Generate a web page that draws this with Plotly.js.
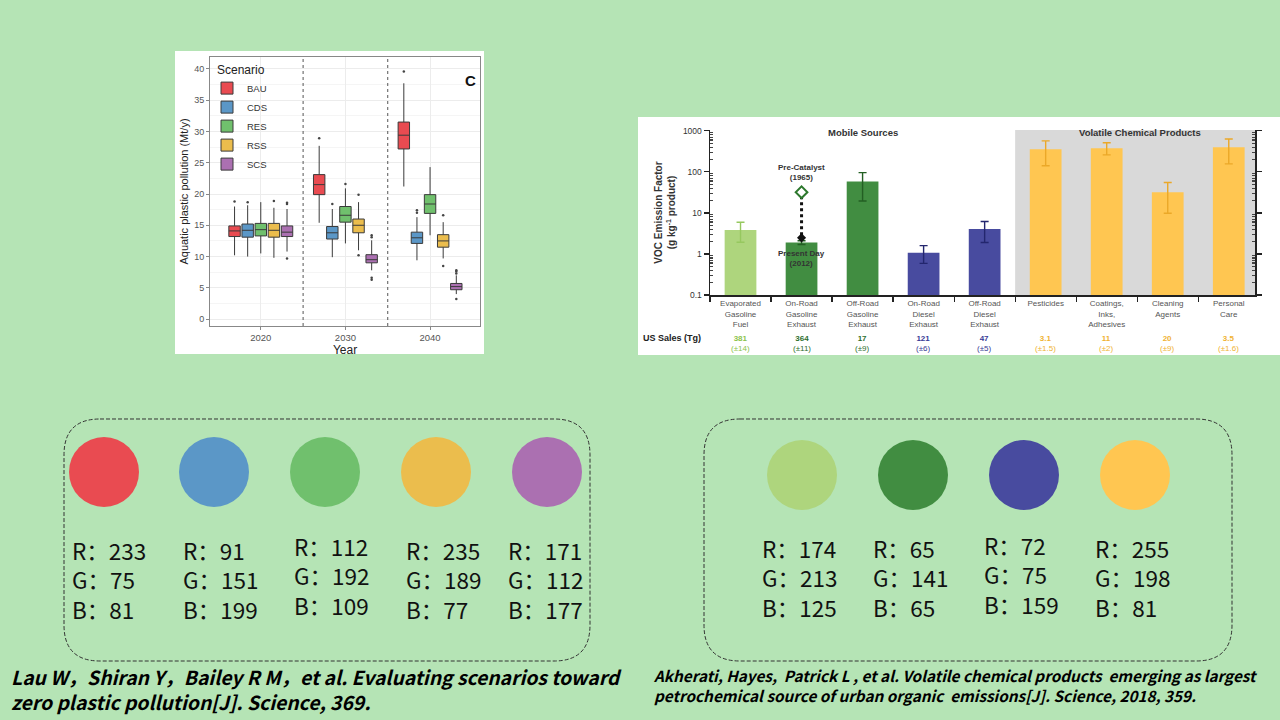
<!DOCTYPE html>
<html><head><meta charset="utf-8">
<script src="https://cdn.plot.ly/plotly-3.0.1.min.js"></script>
<style>html,body{margin:0;padding:0;background:rgb(181,228,181);}#chart{width:1280px;height:720px;}</style>
</head><body><div id="chart"></div>
<script>
// ---------- Left chart data (box plots) ----------
const years = ['2020', '2030', '2040'];
const scenarios = ['BAU', 'CDS', 'RES', 'RSS', 'SCS'];
const scenarioRGB = [[233,75,81],[91,151,199],[112,192,109],[235,189,77],[171,112,177]];
// rows = scenarios, cols = years
const q1Vals  = [[13.2,19.9,27.2],[13.1,12.8,12.1],[13.3,15.5,16.9],[13.1,13.8,11.5],[13.2,9.0,4.7]];
const medVals = [[14.1,21.5,29.4],[14.2,13.8,13.0],[14.3,16.6,18.4],[14.2,15.0,12.5],[13.9,9.5,5.2]];
const q3Vals  = [[14.9,23.1,31.5],[15.2,14.8,13.9],[15.3,18.0,19.9],[15.3,16.0,13.5],[14.9,10.3,5.7]];
const loVals  = [[10.2,15.4,21.2],[10.0,9.9,9.4],[10.5,12.1,13.4],[9.8,11.0,9.7],[10.8,7.8,4.0]];
const hiVals  = [[18.0,27.7,37.7],[18.2,17.6,16.3],[18.7,20.9,24.3],[17.8,18.7,15.5],[17.6,12.6,7.0]];
const outYearIdx = [[0,1,2],[0,1,2,2],[1],[0,1,1,2,2],[0,0,0,1,1,1,1,2,2,2,2]];
const outVals    = [[18.8,28.9,39.6],[18.7,18.4,17.0,17.4],[21.6],[18.9,19.9,10.2,16.6,8.5],[18.4,18.6,9.7,13.1,13.4,6.6,6.3,7.3,7.6,7.8,3.2]];

// ---------- Right chart data (VOC bars) ----------
const vocCats = ['Evaporated<br>Gasoline<br>Fuel','On-Road<br>Gasoline<br>Exhaust','Off-Road<br>Gasoline<br>Exhaust','On-Road<br>Diesel<br>Exhaust','Off-Road<br>Diesel<br>Exhaust','Pesticides','Coatings,<br>Inks,<br>Adhesives','Cleaning<br>Agents','Personal<br>Care'];
const vocValues = [3.85, 1.9, 58, 1.07, 4.07, 355, 378, 32, 400];
const vocUpper  = [5.9, 2.1, 96, 1.6, 6.2, 570, 513, 55, 630];
const vocLower  = [1.93, 1.7, 19.5, 0.59, 1.9, 141, 260, 9.8, 157];
const vocGroup  = [0, 1, 1, 2, 2, 3, 3, 3, 3];
const usSales    = ['381','364','17','121','47','3.1','11','20','3.5'];
const usSalesErr = ['(±14)','(±11)','(±9)','(±6)','(±5)','(±1.5)','(±2)','(±9)','(±1.6)'];
const preCatalyst = 32;   // On-Road Gasoline Exhaust, 1965
const presentDay = 1.9;   // On-Road Gasoline Exhaust, 2012
const vocRGB = [[174,213,125],[65,141,65],[72,75,159],[255,198,81]];
const vocErrColors = ['rgb(150,200,95)','rgb(35,95,35)','rgb(35,38,110)','rgb(235,168,40)'];
const vocTextColors = ['rgb(140,195,75)','rgb(45,110,45)','rgb(55,58,150)','rgb(240,178,50)'];

// ---------- Geometry helpers ----------
const W = 1280, H = 720;
const px = x => x / W, py = y => 1 - y / H;
const rgb = c => `rgb(${c[0]},${c[1]},${c[2]})`;
const chartFont = 'Liberation Sans, Arial, sans-serif';
const cjkFont = 'Noto Sans CJK SC, sans-serif';

const traces = [];
const boxOffset = 0.155;
scenarios.forEach((s, i) => {
  const xs = years.map((_, j) => j + (i - 2) * boxOffset);
  traces.push({
    type: 'box', name: s, x: xs,
    q1: q1Vals[i], median: medVals[i], q3: q3Vals[i],
    lowerfence: loVals[i], upperfence: hiVals[i],
    width: 0.135, whiskerwidth: 0, boxpoints: false,
    fillcolor: rgb(scenarioRGB[i]),
    line: {color: '#3a3a3a', width: 1},
    xaxis: 'x', yaxis: 'y', hoverinfo: 'skip'
  });
});
scenarios.forEach((s, i) => {
  traces.push({
    type: 'scatter', mode: 'markers', showlegend: false,
    x: outYearIdx[i].map(j => j + (i - 2) * boxOffset), y: outVals[i],
    marker: {size: 2.5, color: '#444'}, xaxis: 'x', yaxis: 'y', hoverinfo: 'skip'
  });
});

// bars by colour group
vocRGB.forEach((c, g) => {
  const idx = vocGroup.map((v, i) => v === g ? i : -1).filter(i => i >= 0);
  traces.push({
    type: 'bar', showlegend: false,
    x: idx.map(i => vocCats[i]), y: idx.map(i => vocValues[i]),
    width: 0.52, marker: {color: rgb(c), line: {width: 0}},
    error_y: {type: 'data', symmetric: false,
      array: idx.map(i => vocUpper[i] - vocValues[i]),
      arrayminus: idx.map(i => vocValues[i] - vocLower[i]),
      color: vocErrColors[g], thickness: 1.4, width: 4},
    xaxis: 'x2', yaxis: 'y2', hoverinfo: 'skip'
  });
});
// dashed arrow pre-catalyst -> present day
traces.push({
  type: 'scatter', mode: 'lines', showlegend: false,
  x: [vocCats[1], vocCats[1]], y: [preCatalyst * 0.8, presentDay * 1.3],
  line: {color: '#111', width: 3, dash: 'dot'}, xaxis: 'x2', yaxis: 'y2', hoverinfo: 'skip'
});
traces.push({
  type: 'scatter', mode: 'markers', showlegend: false,
  x: [vocCats[1]], y: [presentDay * 1.3],
  marker: {symbol: 'diamond', size: 7, color: '#111'}, xaxis: 'x2', yaxis: 'y2', hoverinfo: 'skip'
});
traces.push({
  type: 'scatter', mode: 'markers', showlegend: false,
  x: [vocCats[1]], y: [preCatalyst],
  marker: {symbol: 'diamond', size: 9, color: 'white', line: {color: 'rgb(45,120,45)', width: 2}},
  xaxis: 'x2', yaxis: 'y2', hoverinfo: 'skip'
});

// ---------- Shapes ----------
const shapes = [];
shapes.push({type: 'rect', xref: 'paper', yref: 'paper', x0: px(175), x1: px(484), y0: py(354), y1: py(51), fillcolor: 'white', line: {width: 0}, layer: 'below'});
shapes.push({type: 'rect', xref: 'paper', yref: 'paper', x0: px(638), x1: px(1280), y0: py(355), y1: py(117), fillcolor: 'white', line: {width: 0}, layer: 'below'});
[0.5, 1.5].forEach(v => shapes.push({type: 'line', xref: 'x', yref: 'y domain', x0: v, x1: v, y0: 0, y1: 1, line: {color: '#555', width: 1, dash: 'dot'}}));
const x2Range = [-0.5, 8.43];
shapes.push({type: 'rect', xref: 'x2', yref: 'y2 domain', x0: 4.5, x1: x2Range[1], y0: 0, y1: 1, fillcolor: '#d9d9d9', line: {width: 0}, layer: 'below'});

function roundRect(x0, y0, x1, y1, r) {
  const X = v => px(v).toFixed(5), Y = v => py(v).toFixed(5);
  return `M${X(x0 + r)},${Y(y0)} L${X(x1 - r)},${Y(y0)} Q${X(x1)},${Y(y0)} ${X(x1)},${Y(y0 + r)} ` +
    `L${X(x1)},${Y(y1 - r)} Q${X(x1)},${Y(y1)} ${X(x1 - r)},${Y(y1)} L${X(x0 + r)},${Y(y1)} ` +
    `Q${X(x0)},${Y(y1)} ${X(x0)},${Y(y1 - r)} L${X(x0)},${Y(y0 + r)} Q${X(x0)},${Y(y0)} ${X(x0 + r)},${Y(y0)} Z`;
}
shapes.push({type: 'path', xref: 'paper', yref: 'paper', path: roundRect(64, 419, 590, 661, 36), line: {color: '#333', width: 1, dash: '4px,2px'}});
shapes.push({type: 'path', xref: 'paper', yref: 'paper', path: roundRect(704, 419, 1232, 661, 36), line: {color: '#333', width: 1, dash: '4px,2px'}});

const leftSwatchX = [104, 214, 325, 436, 547];
const rightSwatchX = [802, 913, 1024, 1135];
const R = 35;
scenarioRGB.forEach((c, i) => shapes.push({type: 'circle', xref: 'paper', yref: 'paper',
  x0: px(leftSwatchX[i] - R), x1: px(leftSwatchX[i] + R), y0: py(472 + R), y1: py(472 - R),
  fillcolor: rgb(c), line: {width: 0}}));
vocRGB.forEach((c, i) => shapes.push({type: 'circle', xref: 'paper', yref: 'paper',
  x0: px(rightSwatchX[i] - R), x1: px(rightSwatchX[i] + R), y0: py(475 + R), y1: py(475 - R),
  fillcolor: rgb(c), line: {width: 0}}));

// ---------- Annotations ----------
const ann = [];
ann.push({xref: 'paper', yref: 'paper', x: px(470), y: py(70), text: '<b>C</b>', showarrow: false, font: {family: chartFont, size: 15, color: '#111'}});
ann.push({xref: 'x2', yref: 'paper', x: 2, y: py(125), text: '<b>Mobile Sources</b>', showarrow: false, font: {family: chartFont, size: 9.5, color: '#333'}});
ann.push({xref: 'x2', yref: 'paper', x: 6.55, y: py(125), text: '<b>Volatile Chemical Products</b>', showarrow: false, font: {family: chartFont, size: 9.5, color: '#333'}});
ann.push({xref: 'x2', yref: 'y2', x: 1, y: Math.log10(preCatalyst), yshift: 20, text: '<b>Pre-Catalyst</b><br><b>(1965)</b>', showarrow: false, font: {family: chartFont, size: 8, color: '#333'}});
ann.push({xref: 'x2', yref: 'y2', x: 1, y: Math.log10(presentDay), yshift: -16, text: '<b>Present Day</b><br><b>(2012)</b>', showarrow: false, font: {family: chartFont, size: 8, color: '#333'}});
ann.push({xref: 'paper', yref: 'paper', x: px(641), y: py(338), xanchor: 'left', text: '<b>US Sales (Tg)</b>', showarrow: false, font: {family: chartFont, size: 9, color: '#222'}});
usSales.forEach((s, i) => {
  const col = vocTextColors[vocGroup[i]];
  ann.push({xref: 'x2', yref: 'paper', x: i, y: py(343.5), text: '<b>' + s + '</b><br>' + usSalesErr[i], showarrow: false, font: {family: chartFont, size: 8, color: col}});
});

// RGB swatch texts (one block per colour)
const leftTextX = [70, 181, 292, 404, 506];
const leftTextY = [579, 579, 575, 579, 579];
const rightTextX = [760, 871, 982, 1093];
const rightTextY = [577, 577, 574, 577];
const chan = ['R', 'G', 'B'];
const swatchText = c => chan.map((ch, k) => ch + '：' + c[k]).join('<br>');
scenarioRGB.forEach((c, i) => ann.push({
  xref: 'paper', yref: 'paper', x: px(leftTextX[i]), y: py(leftTextY[i]),
  xanchor: 'left', yanchor: 'middle', align: 'left', showarrow: false, text: swatchText(c),
  font: {family: cjkFont, size: 22.5, color: '#111'}}));
vocRGB.forEach((c, i) => ann.push({
  xref: 'paper', yref: 'paper', x: px(rightTextX[i]), y: py(rightTextY[i]),
  xanchor: 'left', yanchor: 'middle', align: 'left', showarrow: false, text: swatchText(c),
  font: {family: cjkFont, size: 22.5, color: '#111'}}));

ann.push({xref: 'paper', yref: 'paper', x: px(9), y: py(689), xanchor: 'left', yanchor: 'middle', align: 'left', showarrow: false,
  text: '<b><i>Lau W，Shiran Y，Bailey R M，et al. Evaluating scenarios toward<br>zero plastic pollution[J]. Science, 369.</i></b>',
  font: {family: cjkFont, size: 19.3, color: '#000'}});
ann.push({xref: 'paper', yref: 'paper', x: px(651), y: py(685), xanchor: 'left', yanchor: 'middle', align: 'left', showarrow: false,
  text: '<b><i>Akherati, Hayes,  Patrick L , et al. Volatile chemical products  emerging as largest<br>petrochemical source of urban organic  emissions[J]. Science, 2018, 359.</i></b>',
  font: {family: cjkFont, size: 15.3, color: '#000'}});

// minor ticks for log axis
const minorLog = [];
[0.1, 1, 10, 100].forEach(d => { for (let m = 2; m <= 9; m++) minorLog.push(d * m); });

const layout = {
  width: W, height: H, margin: {l: 0, r: 0, t: 0, b: 0},
  paper_bgcolor: 'rgb(181,228,181)', plot_bgcolor: 'white',
  font: {family: chartFont},
  boxmode: 'overlay', barmode: 'overlay',
  showlegend: true,
  legend: {x: px(215), y: py(58), xanchor: 'left', yanchor: 'top', bgcolor: 'rgba(0,0,0,0)',
    indentation: -8,
    title: {text: 'Scenario', font: {family: chartFont, size: 12, color: '#222'}},
    font: {family: chartFont, size: 9.5, color: '#333'}, tracegroupgap: 0, itemwidth: 30},
  xaxis: {domain: [px(210), px(480)], anchor: 'y', range: [-0.6, 2.59], tickvals: [0, 1, 2], ticktext: years,
    showgrid: true, gridcolor: '#ececec', zeroline: false, showline: true, mirror: true, linecolor: '#888', linewidth: 1,
    ticks: 'outside', ticklen: 3, tickcolor: '#888', tickfont: {size: 9.5, color: '#555'},
    title: {text: 'Year', font: {size: 12, color: '#222'}, standoff: 1}},
  yaxis: {domain: [py(326), py(57)], anchor: 'x', range: [-1.1, 41.9], tickvals: [0, 5, 10, 15, 20, 25, 30, 35, 40],
    showgrid: true, gridcolor: '#ececec', zeroline: false, showline: true, mirror: true, linecolor: '#888', linewidth: 1,
    ticks: 'outside', ticklen: 3, tickcolor: '#888', tickfont: {size: 9, color: '#555'},
    minor: {showgrid: true, gridcolor: '#f5f5f5', dtick: 2.5, tick0: 0},
    title: {text: 'Aquatic plastic pollution (Mt/y)', font: {size: 11, color: '#222'}, standoff: 3}},
  xaxis2: {domain: [px(710), px(1255)], anchor: 'y2', type: 'category', range: x2Range,
    categoryorder: 'array', categoryarray: vocCats,
    showgrid: false, zeroline: false, showline: true, linecolor: '#222', linewidth: 1.5,
    ticks: 'outside', tickson: 'boundaries', ticklen: 5, tickcolor: '#222', tickwidth: 1.2,
    tickfont: {size: 8, color: '#555'}},
  yaxis2: {domain: [py(295), py(130)], anchor: 'x2', type: 'log', range: [-1, 3.02],
    tickvals: [0.1, 1, 10, 100, 1000], ticktext: ['0.1', '1', '10', '100', '1000'],
    showgrid: false, zeroline: false, showline: true, mirror: 'allticks', linecolor: '#222', linewidth: 1.5,
    ticks: 'outside', ticklen: 5, tickcolor: '#222', tickwidth: 1.2, tickfont: {size: 8.5, color: '#333'},
    minor: {tickvals: minorLog, ticks: 'inside', ticklen: 3, tickcolor: '#444', showgrid: false},
    title: {text: '<b>VOC Emission Factor</b><br><b>(g kg<sup>-1</sup> product)</b>', font: {size: 10, color: '#333'}, standoff: 5}},
  shapes: shapes, annotations: ann
};

Plotly.newPlot('chart', traces, layout, {staticPlot: true, displayModeBar: false});
</script></body></html>
